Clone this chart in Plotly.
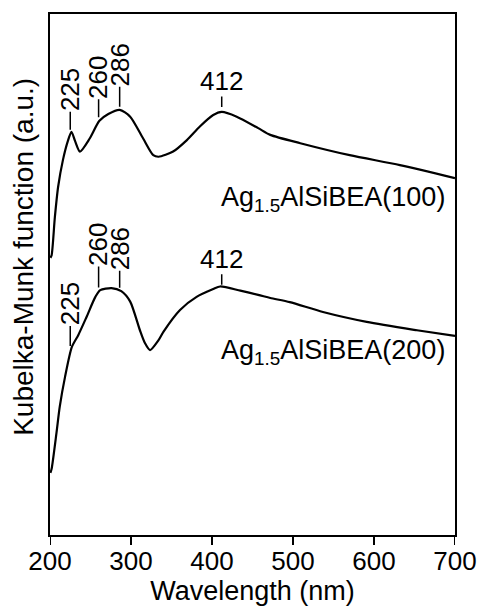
import numpy as np
import plotly.graph_objects as go

# Ag1.5AlSiBEA(100) spectrum (arbitrary units)
wl_100 = [200.5, 202, 206, 210, 216, 222, 226.5, 231, 237, 249, 261, 272, 286, 299, 315, 327.5, 334,
          352, 369, 385, 401.5, 412, 430.5, 457, 472, 509, 570, 632, 700]
km_100 = [5.32, 5.37, 6.10, 6.68, 7.20, 7.56, 7.74, 7.56, 7.36, 7.61, 7.95, 8.08, 8.16, 8.03, 7.61,
          7.29, 7.26, 7.36, 7.58, 7.84, 8.06, 8.12, 8.03, 7.81, 7.68, 7.52, 7.29, 7.10, 6.85]

# Ag1.5AlSiBEA(200) spectrum (arbitrary units)
wl_200 = [200.5, 202, 208, 212, 218.5, 227, 235, 245, 256, 262, 276, 288, 299, 311, 317, 323.5,
          334, 340, 360.5, 381, 401.5, 410, 435, 457, 472, 496, 537, 591, 653, 700]
km_200 = [1.19, 1.27, 1.96, 2.46, 3.03, 3.61, 3.84, 4.18, 4.57, 4.70, 4.74, 4.68, 4.48, 3.93, 3.69,
          3.55, 3.74, 3.90, 4.32, 4.57, 4.72, 4.77, 4.69, 4.61, 4.55, 4.47, 4.28, 4.09, 3.93, 3.82]

peaks_100 = [225, 260, 286, 412]
peaks_200 = [225, 260, 286, 412]
x_ticks = [200, 300, 400, 500, 600, 700]
x_range = [200, 700]

FONT = "Liberation Sans, Arial, sans-serif"
PLOT_H = 611 - 14 - 76
fig = go.Figure()
for wl, km in [(wl_100, km_100), (wl_200, km_200)]:
    fig.add_trace(go.Scatter(x=wl, y=km, mode="lines",
                             line=dict(color="black", width=2.2, shape="spline", smoothing=0.7),
                             showlegend=False, hoverinfo="skip"))

# outward tick marks on the wavelength axis
for t in x_ticks:
    fig.add_shape(type="line", xref="x", yref="paper", x0=t, x1=t, y0=0, y1=-10 / PLOT_H,
                  line=dict(color="black", width=2), layer="above")

# label offsets (pixels) / gaps
offs_100 = {225: 45, 260: 45, 286: 45, 412: 31}
offs_200 = {225: 50, 260: 48, 286: 42, 412: 28}
gap_100 = {225: 5, 260: 5, 286: 3, 412: 5}
gap_200 = {225: 8, 260: 5, 286: 3, 412: 2}

def add_peak_labels(wl, km, peaks, offs, gaps):
    for p in peaks:
        yv = float(np.interp(p, wl, km))
        rot = p != 412
        fig.add_annotation(x=p, y=yv, xref="x", yref="y", text=str(p), showarrow=True, arrowhead=0,
                           arrowwidth=1.5, arrowcolor="black", ax=0, ay=-offs[p], standoff=gaps[p],
                           textangle=-90 if rot else 0, font=dict(family=FONT, size=26, color="black"),
                           borderpad=0)

add_peak_labels(wl_100, km_100, peaks_100, offs_100, gap_100)
add_peak_labels(wl_200, km_200, peaks_200, offs_200, gap_200)

fig.add_annotation(x=0.98, y=0.645, xref="paper", yref="paper", xanchor="right", yanchor="middle",
                   text="Ag<sub>1.5</sub>AlSiBEA(100)", showarrow=False,
                   font=dict(family=FONT, size=27, color="black"))
fig.add_annotation(x=0.98, y=0.351, xref="paper", yref="paper", xanchor="right", yanchor="middle",
                   text="Ag<sub>1.5</sub>AlSiBEA(200)", showarrow=False,
                   font=dict(family=FONT, size=27, color="black"))
fig.add_annotation(x=-0.064, y=0.534, xref="paper", yref="paper", xanchor="center", yanchor="middle",
                   text="Kubelka-Munk function (a.u.)", textangle=-90, showarrow=False,
                   font=dict(family=FONT, size=28, color="black"))

fig.update_layout(
    template="none",
    width=482, height=611,
    margin=dict(l=50, r=27, t=14, b=76),
    plot_bgcolor="white", paper_bgcolor="white",
    font=dict(family=FONT, size=26, color="black"),
    xaxis=dict(range=x_range, tickmode="array", tickvals=x_ticks, ticks="", ticklabelstandoff=2,
               showline=True, linewidth=2, linecolor="black", mirror=True, showgrid=False, zeroline=False,
               automargin=False,
               title=dict(text="Wavelength (nm)", font=dict(family=FONT, size=27), standoff=6)),
    yaxis=dict(range=[0, 10], showticklabels=False, ticks="", showline=True, linewidth=2, linecolor="black",
               mirror=True, showgrid=False, zeroline=False, automargin=False),
)

fig.write_html("out.html", config={"displayModeBar": False},
               post_script="document.body.style.margin='0';document.body.style.overflow='hidden';")
